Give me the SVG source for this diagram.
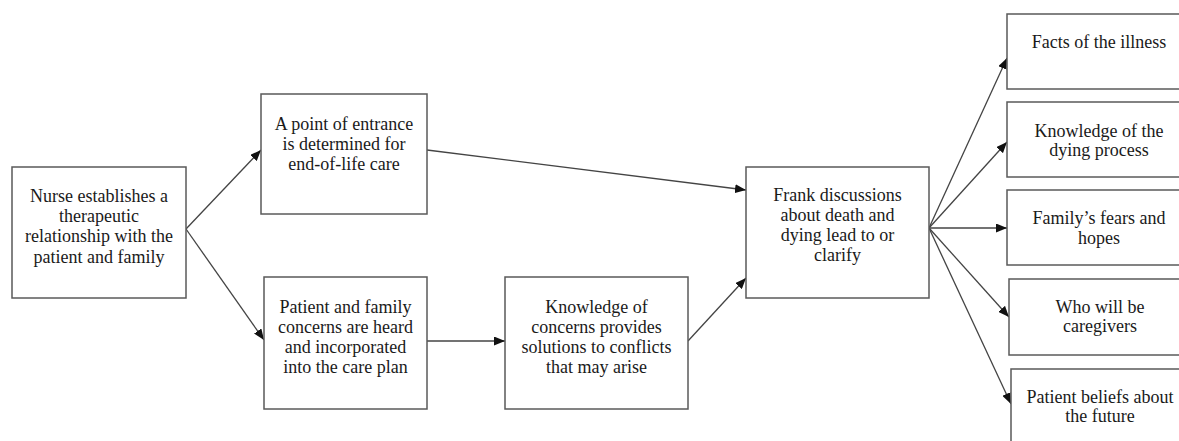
<svg xmlns="http://www.w3.org/2000/svg" width="1179" height="441" viewBox="0 0 1179 441">
<defs>
<style>
.box{fill:#fff;stroke:#5a5a5a;stroke-width:1.5}
.t{font-family:"Liberation Serif","Times New Roman",serif;font-size:18px;fill:#1a1a1a;text-anchor:middle}
.c{fill:none;stroke:#444;stroke-width:1.3}
</style>
<marker id="ah" markerUnits="userSpaceOnUse" markerWidth="11" markerHeight="9" refX="11" refY="4.5" orient="auto">
<path d="M0,0 L11,4.5 L0,9 z" fill="#111"/>
</marker>
</defs>
<rect width="1179" height="441" fill="#fff"/>
<g id="connectors">
<line class="c" x1="186" y1="229" x2="261" y2="150" marker-end="url(#ah)"/>
<line class="c" x1="186" y1="229" x2="264" y2="340" marker-end="url(#ah)"/>
<line class="c" x1="427" y1="150" x2="746" y2="190" marker-end="url(#ah)"/>
<line class="c" x1="427" y1="341" x2="505" y2="341" marker-end="url(#ah)"/>
<line class="c" x1="688" y1="341" x2="746" y2="278" marker-end="url(#ah)"/>
<line class="c" x1="929" y1="228" x2="1007" y2="58" marker-end="url(#ah)"/>
<line class="c" x1="929" y1="228" x2="1007" y2="142" marker-end="url(#ah)"/>
<line class="c" x1="929" y1="228" x2="1007" y2="228" marker-end="url(#ah)"/>
<line class="c" x1="929" y1="228" x2="1009" y2="317" marker-end="url(#ah)"/>
<line class="c" x1="929" y1="228" x2="1011" y2="404" marker-end="url(#ah)"/>
</g>
<g id="n1"><rect class="box" x="12" y="167" width="174" height="131"/>
<text class="t" x="99" y="202">Nurse establishes a</text>
<text class="t" x="99" y="222">therapeutic</text>
<text class="t" x="99" y="242">relationship with the</text>
<text class="t" x="99" y="263">patient and family</text></g>
<g id="n2"><rect class="box" x="261" y="94" width="166" height="120"/>
<text class="t" x="344" y="130">A point of entrance</text>
<text class="t" x="344" y="150">is determined for</text>
<text class="t" x="344" y="170">end-of-life care</text></g>
<g id="n3"><rect class="box" x="264" y="277" width="163" height="132"/>
<text class="t" x="345.5" y="313">Patient and family</text>
<text class="t" x="345.5" y="333">concerns are heard</text>
<text class="t" x="345.5" y="353">and incorporated</text>
<text class="t" x="345.5" y="373">into the care plan</text></g>
<g id="n4"><rect class="box" x="505" y="277" width="183" height="132"/>
<text class="t" x="596.5" y="313">Knowledge of</text>
<text class="t" x="596.5" y="333">concerns provides</text>
<text class="t" x="596.5" y="353">solutions to conflicts</text>
<text class="t" x="596.5" y="373">that may arise</text></g>
<g id="n5"><rect class="box" x="746" y="167" width="183" height="131"/>
<text class="t" x="837.5" y="201">Frank discussions</text>
<text class="t" x="837.5" y="221">about death and</text>
<text class="t" x="837.5" y="241">dying lead to or</text>
<text class="t" x="837.5" y="261">clarify</text></g>
<g id="n6"><rect class="box" x="1007" y="14" width="190" height="75"/>
<text class="t" x="1099" y="48">Facts of the illness</text></g>
<g id="n7"><rect class="box" x="1007" y="102" width="190" height="75"/>
<text class="t" x="1099" y="137">Knowledge of the</text>
<text class="t" x="1099" y="156">dying process</text></g>
<g id="n8"><rect class="box" x="1007" y="190" width="190" height="75"/>
<text class="t" x="1099" y="224">Family’s fears and</text>
<text class="t" x="1099" y="244">hopes</text></g>
<g id="n9"><rect class="box" x="1009" y="279" width="190" height="76"/>
<text class="t" x="1100" y="313">Who will be</text>
<text class="t" x="1100" y="332">caregivers</text></g>
<g id="n10"><rect class="box" x="1011" y="369" width="190" height="90"/>
<text class="t" x="1100" y="403">Patient beliefs about</text>
<text class="t" x="1100" y="422">the future</text></g>
</svg>
